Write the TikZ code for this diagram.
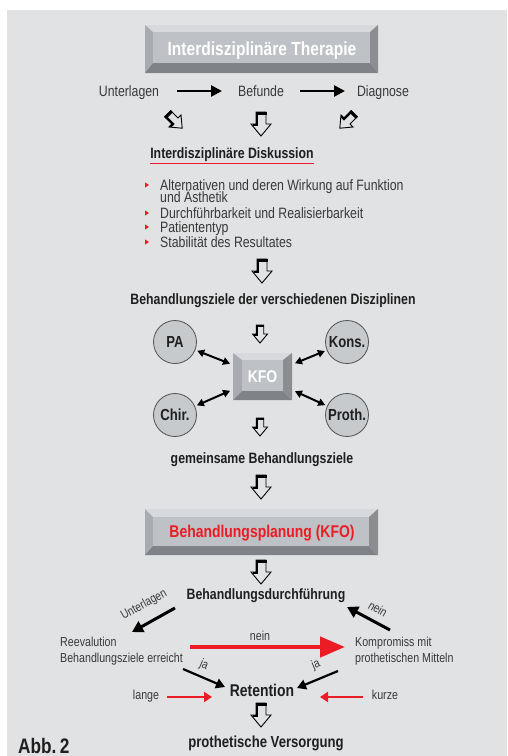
\documentclass[tikz,border=0pt]{standalone}
\usepackage{fontspec}
\setmainfont{Liberation Sans}[FakeStretch=0.82]
\usetikzlibrary{arrows.meta}
\definecolor{bg}{HTML}{E1E2E4}
\definecolor{bvTop}{HTML}{D7D9DC}
\definecolor{bvFace}{HTML}{BEC1C5}
\definecolor{bvLeft}{HTML}{A8ABAF}
\definecolor{bvRight}{HTML}{8A8E91}
\definecolor{bvBot}{HTML}{7F8387}
\definecolor{rd}{HTML}{EC1C24}
\definecolor{txt}{HTML}{383838}
\definecolor{dk}{HTML}{1F1F1F}
\definecolor{circ}{HTML}{C7CACD}
\definecolor{circline}{HTML}{505050}
\newcommand{\bevelbox}[8]{%
  \fill[bvTop] (#1,#2) -- (#3,#2) -- (#7,#6) -- (#5,#6) -- cycle;
  \fill[bvLeft] (#1,#2) -- (#5,#6) -- (#5,#8) -- (#1,#4) -- cycle;
  \fill[bvRight] (#3,#2) -- (#3,#4) -- (#7,#8) -- (#7,#6) -- cycle;
  \fill[bvBot] (#1,#4) -- (#5,#8) -- (#7,#8) -- (#3,#4) -- cycle;
  \fill[bvFace] (#5,#6) rectangle (#7,#8);}
\begin{document}
\begin{tikzpicture}[x=1pt,y=-1pt,
  reg/.style={font=\fontsize{15}{17}\selectfont,text=txt,inner sep=0pt,anchor=base},
  sml/.style={font=\fontsize{13}{15}\selectfont,text=txt,inner sep=0pt,anchor=base},
  bld/.style={font=\fontsize{15}{17}\selectfont\bfseries,text=dk,inner sep=0pt,anchor=base},
  rotlabel/.style={font=\fontsize{12.5}{14}\selectfont,text=txt,inner sep=0pt},
  disc/.style={circle,minimum size=43pt,fill=circ,draw=circline,line width=0.8pt,inner sep=0pt,
     font=\fontsize{16}{18}\selectfont\bfseries,text=dk},
  blkarrow/.style={draw=black,line width=2.6pt,-{Triangle[length=11pt,width=11pt]}},
  thickarrow/.style={draw=black,line width=3pt,-{Triangle[length=11pt,width=12pt]}},
  jaarrow/.style={draw=black,line width=2.2pt,-{Triangle[length=9pt,width=10pt]}},
  dblarrow/.style={draw=black,line width=2pt,{Triangle[length=7pt,width=7.5pt]}-{Triangle[length=7pt,width=7.5pt]},shorten <=2pt,shorten >=3pt},
  redbig/.style={draw=rd,line width=4.5pt,-{Triangle[length=25pt,width=20pt]}},
  redsmall/.style={draw=rd,line width=2.2pt,-{Triangle[length=8pt,width=10pt]}},
  harrow/.pic={
    \fill[bg] (-5,-12) -- (5,-12) -- (5,0) -- (10,0) -- (0,12) -- (-10,0) -- (-5,0) -- cycle;
    \draw[line width=0.9pt,line join=miter] (-5,-12) -- (5,-12) -- (5,0) -- (10,0) -- (0,12) -- (-10,0) -- (-5,0) -- cycle;
    \fill[black] (-5.5,-12.5) rectangle (5.5,-9);
    \draw[line width=2.2pt] (-4.2,-12) -- (-4.2,0.8) -- (-8.5,0.8);
  },
  bul/.pic={\fill[rd] (0,-2.6) -- (4,0) -- (0,2.6) -- cycle;}
]
\useasboundingbox (0,0) rectangle (507,756);
\fill[white] (0,0) rectangle (507,756);
\fill[bg] (7,10) rectangle (507,756);

% title box
\bevelbox{145}{25}{378}{73}{153}{32}{370}{63}
\node[bld,text=white,font=\fontsize{19}{21}\selectfont\bfseries] (title) at (262,55) {Interdisziplinäre Therapie};

% first row
\node[reg] (unt) at (129,96) {Unterlagen};
\node[reg] (bef) at (261,96) {Befunde};
\node[reg] (dia) at (383,96) {Diagnose};
\coordinate (a1s) at (177,91); \coordinate (a1e) at (222,91);
\coordinate (a2s) at (300,91); \coordinate (a2e) at (345,91);
\draw[blkarrow] (a1s) -- (a1e);
\draw[blkarrow] (a2s) -- (a2e);

\pic[rotate=45,scale=0.85] (h1) at (175,121) {harrow};
\pic (h2) at (261,124) {harrow};
\pic[rotate=-45,scale=0.85] (h3) at (347,121) {harrow};

\node[bld] (disk) at (232,158) {Interdisziplinäre Diskussion};
\draw[rd,line width=1.2pt] ([yshift=-2.5pt]disk.south west) -- ([yshift=-2.5pt]disk.south east);

% bullets
\node[reg,anchor=base west] (b1) at (160,190) {Alternativen und deren Wirkung auf Funktion};
\node[reg,anchor=base west] (b1b) at (160,202) {und Ästhetik};
\node[reg,anchor=base west] (b2) at (160,218) {Durchführbarkeit und Realisierbarkeit};
\node[reg,anchor=base west] (b3) at (160,232) {Patiententyp};
\node[reg,anchor=base west] (b4) at (160,247) {Stabilität des Resultates};
\pic (p1) at (145,185) {bul};
\pic (p2) at (145,213) {bul};
\pic (p3) at (145,227) {bul};
\pic (p4) at (145,242) {bul};

\pic (h4) at (262,271) {harrow};
\node[bld] (ziele) at (273,304) {Behandlungsziele der verschiedenen Disziplinen};

\pic[scale=0.75] (h5) at (260,334) {harrow};

% KFO cluster
\bevelbox{233}{353}{292}{400}{242}{360}{283}{391}
\node[minimum width=59pt,minimum height=47pt,inner sep=0pt,text=white,font=\fontsize{17}{19}\selectfont\bfseries] (kfo) at (262.5,376.5) {KFO};
\node[disc] (pa) at (175,342) {PA};
\node[disc] (kons) at (347,342) {Kons.};
\node[disc] (chir) at (175,415) {Chir.};
\node[disc] (proth) at (347,415) {Proth.};
\draw[dblarrow] (pa) -- (kfo);
\draw[dblarrow] (kons) -- (kfo);
\draw[dblarrow] (chir) -- (kfo);
\draw[dblarrow] (proth) -- (kfo);

\pic[scale=0.75] (h6) at (260,427) {harrow};
\node[bld] (gem) at (262,463) {gemeinsame Behandlungsziele};

\pic (h7) at (261,487) {harrow};

% planning box
\bevelbox{145}{509}{378}{555}{153}{517}{369}{546}
\node[bld,text=rd,font=\fontsize{17}{19}\selectfont\bfseries] (plan) at (262,537) {Behandlungsplanung (KFO)};

\pic (h8) at (261,572) {harrow};
\node[bld] (durch) at (266,599) {Behandlungsdurchführung};

% bottom cycle
\node[sml,anchor=base west] (reev) at (60,646) {Reevalution};
\node[sml,anchor=base west] (erre) at (60,662) {Behandlungsziele erreicht};
\node[sml,anchor=base west] (komp) at (355,646) {Kompromiss mit};
\node[sml,anchor=base west] (mitt) at (355,662) {prothetischen Mitteln};

\coordinate (u1) at (175,608); \coordinate (u2) at (132,632);
\draw[thickarrow] (u1) -- (u2);
\node[rotlabel,rotate=29] (lunt) at (144,605) {Unterlagen};

\coordinate (n1) at (390,630); \coordinate (n2) at (347,607);
\draw[thickarrow] (n1) -- (n2);
\node[rotlabel,rotate=-30] (lnein) at (378,609) {nein};

\coordinate (r1) at (190,647); \coordinate (r2) at (345,647);
\draw[redbig] (r1) -- (r2);
\node[sml] (lnein2) at (260,640) {nein};

\node[bld,font=\fontsize{17}{19}\selectfont\bfseries] (ret) at (262,696) {Retention};
\coordinate (j1) at (183,669); \coordinate (j2) at (225,687);
\draw[jaarrow] (j1) -- (j2);
\node[rotlabel,rotate=-23] (lja1) at (204,665) {ja};
\coordinate (j3) at (338,671); \coordinate (j4) at (297,688);
\draw[jaarrow] (j3) -- (j4);
\node[rotlabel,rotate=23] (lja2) at (316,665) {ja};

\node[sml] (lange) at (146,699) {lange};
\node[sml] (kurze) at (385,699) {kurze};
\coordinate (l1) at (167,697); \coordinate (l2) at (212,697);
\draw[redsmall] (l1) -- (l2);
\coordinate (k1) at (363,697); \coordinate (k2) at (320,697);
\draw[redsmall] (k1) -- (k2);

\pic (h9) at (261,715) {harrow};
\node[bld,font=\fontsize{16}{18}\selectfont\bfseries] (prot) at (266,747) {prothetische Versorgung};

\node[bld,anchor=base west,font=\fontsize{21}{23}\selectfont\bfseries] (abb) at (18,753) {Abb.\,2};
\end{tikzpicture}
\end{document}
